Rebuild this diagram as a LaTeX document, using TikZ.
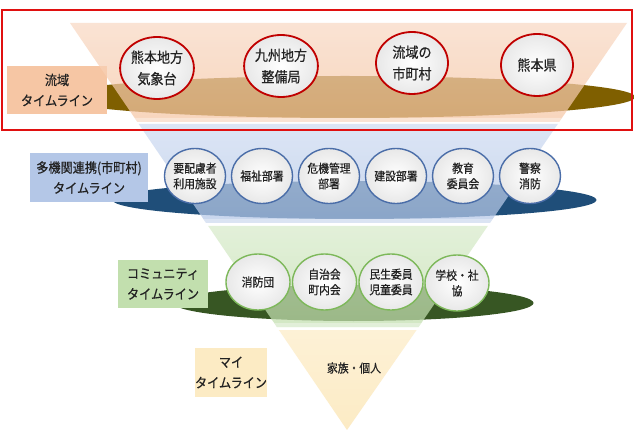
\documentclass[tikz,border=0pt]{standalone}
\usepackage{fontspec}
\newfontfamily\jp[FakeStretch=0.9,FakeBold=0.6]{Noto Sans CJK JP}
\usetikzlibrary{shapes.geometric}
\definecolor{redframe}{HTML}{E01010}
\definecolor{peach}{HTML}{F6C6A4}
\definecolor{peachtop}{HTML}{F9D9C4}
\definecolor{olive}{HTML}{7F5F00}
\definecolor{lblue}{HTML}{B4C7E7}
\definecolor{lbluetop}{HTML}{CFDCF2}
\definecolor{navy}{HTML}{1F4E79}
\definecolor{lgreen}{HTML}{C2DFAE}
\definecolor{lgreentop}{HTML}{D8EBCB}
\definecolor{dgreen}{HTML}{375623}
\definecolor{cream}{HTML}{FCEBC4}
\definecolor{creamtop}{HTML}{FDF1D6}
\definecolor{txt}{HTML}{222222}
\definecolor{cred}{HTML}{C00000}
\definecolor{cblue}{HTML}{4A6DA8}
\definecolor{cgreen}{HTML}{7DB85A}
\tikzset{
  lbl/.style={inner sep=0pt, align=center, font=\jp\fontsize{13.5}{20.5}\selectfont, text=txt},
  circtop/.style={ellipse, draw=cred, line width=1.8pt, inner sep=0pt, minimum width=72pt, minimum height=62pt,
     shading=radial, inner color=white, outer color=gray!18, align=center, text=txt,
     font=\jp\fontsize{14.5}{21.5}\selectfont},
  circblue/.style={ellipse, draw=cblue, line width=1.4pt, inner sep=0pt, minimum width=61pt, minimum height=55pt,
     shading=radial, inner color=white, outer color=gray!18, align=center, text=txt,
     font=\jp\fontsize{12}{15.5}\selectfont},
  circgreen/.style={ellipse, draw=cgreen, line width=1.4pt, inner sep=0pt, minimum width=64pt, minimum height=56pt,
     shading=radial, inner color=white, outer color=gray!18, align=center, text=txt,
     font=\jp\fontsize{12}{15.5}\selectfont},
}
\begin{document}
\begin{tikzpicture}[x=1pt,y=-1pt]
\useasboundingbox (0,0) rectangle (634,430);
\fill[white] (0,0) rectangle (634,430);

% ---------- layer 1 (orange) ----------
\fill[olive] (345,97) ellipse [x radius=290, y radius=21];
\fill[peach] (7,66) rectangle (107,114);
\shade[top color=peachtop, bottom color=peach, fill opacity=0.72]
  (70,23) -- (627,23) -- (559.1,122) -- (137.4,122) -- cycle;
\fill[white, fill opacity=0.35] (137.4,122) -- (559.1,122) -- (561.8,118) -- (134.7,118) -- cycle;
\node[lbl] (l1) at (57,90) {流域\\タイムライン};
\node[circtop] (c11) at (157,68) {熊本地方\\気象台};
\node[circtop] (c12) at (281,66) {九州地方\\整備局};
\node[circtop] (c13) at (412,63) {流域の\\市町村};
\node[circtop] (c14) at (537,65) {熊本県};

% ---------- layer 2 (blue) ----------
\fill[navy] (354.5,200) ellipse [x radius=242, y radius=19];
\fill[lblue] (30,153) rectangle (148,202);
\shade[top color=lbluetop, bottom color=lblue, fill opacity=0.72]
  (138.7,124) -- (557.8,124) -- (489.9,223) -- (206.1,223) -- cycle;
\fill[white, fill opacity=0.35] (206.1,223) -- (489.9,223) -- (492.6,219) -- (203.4,219) -- cycle;
\node[lbl] (l2) at (89,177.5) {多機関連携(市町村)\\タイムライン};
\node[circblue] (c21) at (195,176) {要配慮者\\利用施設};
\node[circblue] (c22) at (262,176) {福祉部署};
\node[circblue] (c23) at (329,176) {危機管理\\部署};
\node[circblue] (c24) at (396,176) {建設部署};
\node[circblue] (c25) at (463,176) {教育\\委員会};
\node[circblue] (c26) at (530,176) {警察\\消防};

% ---------- layer 3 (green) ----------
\fill[dgreen] (353.5,303) ellipse [x radius=180, y radius=18];
\fill[lgreen] (118,260) rectangle (208,308);
\shade[top color=lgreentop, bottom color=lgreen, fill opacity=0.72]
  (208.2,226) -- (487.8,226) -- (418.6,327) -- (276.9,327) -- cycle;
\fill[white, fill opacity=0.35] (276.9,327) -- (418.6,327) -- (421.3,323) -- (274.2,323) -- cycle;
\node[lbl] (l3) at (163,284) {コミュニティ\\タイムライン};
\node[circgreen] (c31) at (258,282) {消防団};
\node[circgreen] (c32) at (324.5,282) {自治会\\町内会};
\node[circgreen] (c33) at (391,282) {民生委員\\児童委員};
\node[circgreen] (c34) at (457,283) {学校・社\\協};

% ---------- layer 4 (cream) ----------
\fill[cream] (195,348) rectangle (267,397);
\shade[top color=creamtop, bottom color=cream]
  (278.9,330) -- (416.6,330) -- (347,430) -- cycle;
\node[lbl] (l4) at (231,372.5) {マイ\\タイムライン};
\node[lbl, font=\jp\fontsize{12}{14}\selectfont] (c41) at (354,368) {家族・個人};

% ---------- red frame ----------
\draw[redframe, line width=2.4pt] (2,10) rectangle (632,130);
\end{tikzpicture}
\end{document}
